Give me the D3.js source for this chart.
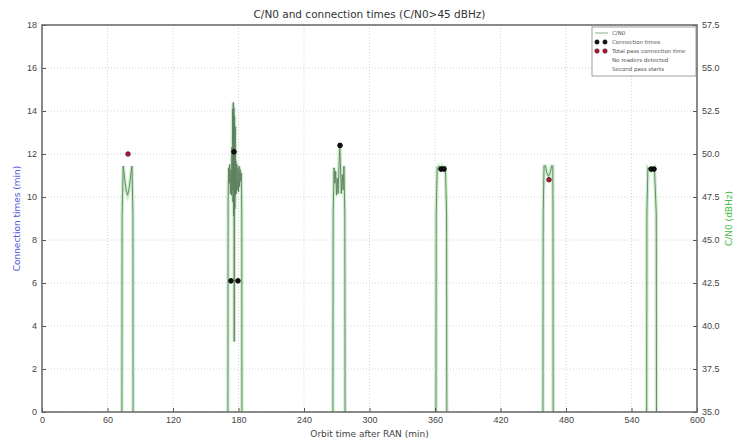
<!DOCTYPE html>
<meta charset="utf-8">
<style>
body { margin: 0; background: #fff; font-family: "DejaVu Sans", sans-serif; }
.tick text { fill: #444; font-size: 9px; }
.grid line { stroke: #d4d4d4; stroke-dasharray: 1,2; }
</style>
<body>
<script src="https://cdn.jsdelivr.net/npm/d3@7"></script>
<script>
// C/N0 (dBHz) per pass, [orbit time (min), C/N0]
var pass1 = [[73.1,30],[73.4,46.5],[74.4,49.3],[75.8,48.5],[77,47.9],[78.4,47.6],[79.8,48.0],[81.2,48.7],[82.4,49.3],[83.3,46.5],[83.5,30]];
var pass2 = [[170.2,30],[170.5,47.5],[171,49.2],[171.5,48.3],[172,49.4],[172.5,47.7],[173,49.1],[173.5,47.6],[174,50.4],[174.3,47.9],
             [174.6,52.6],[174.9,47.2],[175.2,53.0],[175.5,46.4],[175.8,52.7],[176.1,39.1],[176.4,52.2],[176.7,46.8],[177,51.6],
             [177.3,47.6],[177.6,49.6],[178,47.7],[178.5,49.4],[179,47.9],[179.5,49.2],[180,47.8],[180.5,49.3],[181,48.1],
             [181.5,49.1],[182,48.4],[182.6,48.9],[183,46.5],[183.2,30]];
var pass3 = [[266.4,30],[266.7,46.5],[267.5,49.2],[268.3,48.3],[269,49.0],[269.8,47.6],[270.5,48.6],[271.3,47.7],[272.2,49.6],
             [272.8,50.4],[273.4,49.3],[274.2,47.7],[275,48.8],[275.8,47.9],[276.6,49.3],[277.4,46.5],[277.7,30]];
var pass4 = [[360.8,30],[361.1,46.5],[362,49.2],[363.5,49.3],[365,49.1],[366.5,49.3],[368,49.1],[369.5,49.3],[370.6,46.5],[370.9,30]];
var pass5 = [[458.8,30],[459.1,46.5],[459.9,49.3],[461.2,49.3],[462.5,48.9],[464,48.7],[465.5,48.9],[466.8,49.3],[467.9,49.3],[468.1,46.5],[468.3,30]];
var pass6 = [[553.8,30],[554.1,46.5],[555,49.2],[556.5,49.1],[558,49.0],[559.5,49.1],[561,49.2],[562.7,46.5],[563,30]];
var passes = [pass1, pass2, pass3, pass4, pass5, pass6];

// connection times (min) at [orbit time, minutes]
var connTimes = [[173.1,6.1],[179.5,6.1],[175.9,12.1],[273.0,12.4],[365.5,11.3],[368.2,11.3],[558.0,11.3],[560.6,11.3]];
var totalTimes = [[78.8,12.0],[464.4,10.8]];

var xTicks = d3.range(0, 601, 60);
var yLeftTicks = d3.range(0, 19, 2);
var yRightTicks = d3.range(35, 57.6, 2.5);
var legendItems = ["C/N0", "Connection times", "Total pass connection time", "No readers detected", "Second pass starts"];

var W = 740, H = 443;
var pLeft = 42, pRight = 697, pTop = 25, pBottom = 412;

var svg = d3.select("body").append("svg").attr("width", W).attr("height", H);

var x = d3.scaleLinear().domain([0, 600]).range([pLeft, pRight]);
var yL = d3.scaleLinear().domain([0, 18]).range([pBottom, pTop]);
var yR = d3.scaleLinear().domain([35, 57.5]).range([pBottom, pTop]);

// grid
svg.append("g").attr("class", "grid")
  .selectAll("line").data(xTicks).join("line")
    .attr("x1", d => x(d)).attr("x2", d => x(d)).attr("y1", pTop).attr("y2", pBottom);
svg.append("g").attr("class", "grid")
  .selectAll("line").data(yLeftTicks).join("line")
    .attr("y1", d => yL(d)).attr("y2", d => yL(d)).attr("x1", pLeft).attr("x2", pRight);

svg.append("clipPath").attr("id", "clip")
  .append("rect").attr("x", pLeft).attr("y", pTop).attr("width", pRight - pLeft).attr("height", pBottom - pTop);

var line = d3.line().x(d => x(d[0])).y(d => yR(d[1]));
var plot = svg.append("g").attr("clip-path", "url(#clip)");
plot.append("g").selectAll("path").data(passes).join("path")
  .attr("fill", "none").attr("stroke", "#b5e6b5").attr("stroke-width", 3.5).attr("stroke-opacity", 0.7)
  .attr("d", line);
plot.append("g").selectAll("path").data(passes).join("path")
  .attr("fill", "none").attr("stroke", "#5f805f").attr("stroke-width", 0.9)
  .attr("d", line);

plot.append("g").selectAll("circle").data(connTimes).join("circle")
  .attr("cx", d => x(d[0])).attr("cy", d => yL(d[1])).attr("r", 2.3)
  .attr("fill", "#111").attr("stroke", "#000");
plot.append("g").selectAll("circle").data(totalTimes).join("circle")
  .attr("cx", d => x(d[0])).attr("cy", d => yL(d[1])).attr("r", 2.3)
  .attr("fill", "#c8102e").attr("stroke", "#222").attr("stroke-width", 0.8);

// axes
var xAxis = d3.axisBottom(x).tickValues(xTicks).tickSize(-4).tickPadding(5).tickFormat(d3.format("d"));
var lAxis = d3.axisLeft(yL).tickValues(yLeftTicks).tickSize(-4).tickPadding(5);
var rAxis = d3.axisRight(yR).tickValues(yRightTicks).tickSize(-4).tickPadding(5).tickFormat(d3.format(".1f"));

function styleAxis(g) {
  g.select(".domain").remove();
  g.selectAll(".tick line").attr("stroke", "#555");
}
svg.append("g").attr("transform", "translate(0," + pBottom + ")").call(xAxis).call(styleAxis);
svg.append("g").attr("transform", "translate(" + pLeft + ",0)").call(lAxis).call(styleAxis);
var ra = svg.append("g").attr("transform", "translate(" + pRight + ",0)").call(rAxis).call(styleAxis);
ra.selectAll(".tick text").attr("text-anchor", "start").attr("x", 5);

svg.append("rect").attr("x", pLeft).attr("y", pTop).attr("width", pRight - pLeft).attr("height", pBottom - pTop)
  .attr("fill", "none").attr("stroke", "#666").attr("stroke-width", 1.5);

// titles
svg.append("text").attr("x", (pLeft + pRight) / 2).attr("y", 18).attr("text-anchor", "middle")
  .attr("font-size", 10.5).attr("fill", "#333").text("C/N0 and connection times (C/N0>45 dBHz)");
svg.append("text").attr("x", (pLeft + pRight) / 2).attr("y", 437).attr("text-anchor", "middle")
  .attr("font-size", 9).attr("fill", "#444").text("Orbit time after RAN (min)");
svg.append("text").attr("transform", "translate(20," + (pTop + pBottom) / 2 + ")rotate(-90)")
  .attr("text-anchor", "middle").attr("font-size", 9).attr("fill", "#5555dd").text("Connection times (min)");
svg.append("text").attr("transform", "translate(732," + (pTop + pBottom) / 2 + ")rotate(-90)")
  .attr("text-anchor", "middle").attr("font-size", 9).attr("fill", "#44bb44").text("C/N0 (dBHz)");

// legend
var lg = svg.append("g").attr("transform", "translate(592,27)");
lg.append("rect").attr("width", 104).attr("height", 49).attr("fill", "#fff").attr("stroke", "#888").attr("stroke-width", 0.8);
var rows = lg.selectAll("g").data(legendItems).join("g")
  .attr("transform", (d, i) => "translate(0," + (6 + i * 9) + ")");
rows.append("text").attr("x", 20).attr("y", 2).attr("font-size", 5.5).attr("fill", "#555").text(d => d);
rows.filter((d, i) => i === 0).append("line")
  .attr("x1", 3).attr("x2", 16).attr("stroke", "#8ab08a").attr("stroke-width", 1);
rows.filter((d, i) => i === 1 || i === 2).each(function(d) {
  var g = d3.select(this);
  [5, 13].forEach(function(cx) {
    g.append("circle").attr("cx", cx).attr("cy", 0).attr("r", 2.2)
      .attr("fill", d === "Connection times" ? "#111" : "#c8102e").attr("stroke", "#222").attr("stroke-width", 0.6);
  });
});
</script>
</body>
